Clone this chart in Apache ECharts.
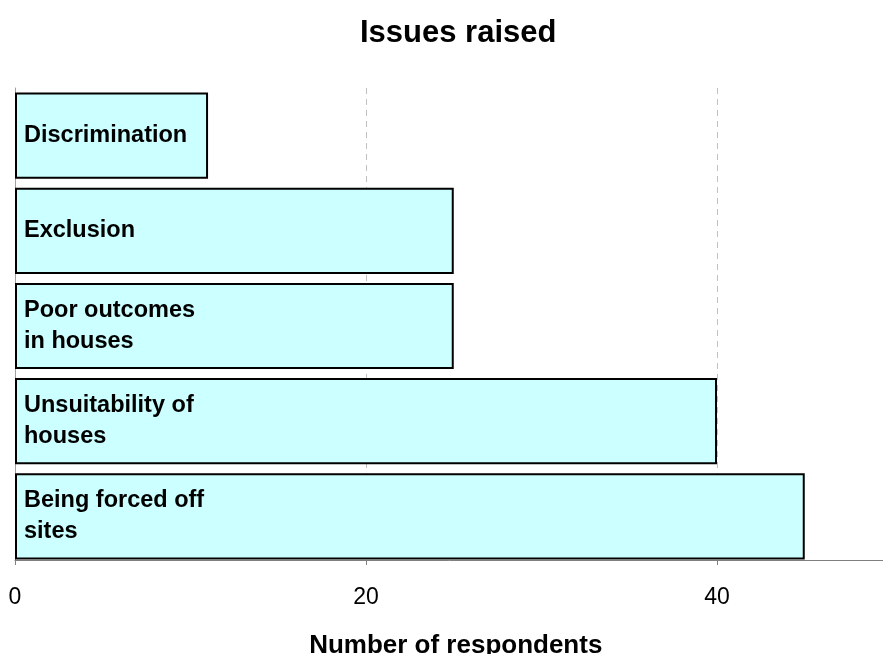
<!DOCTYPE html>
<html><head><meta charset="utf-8">
<script src="https://cdn.jsdelivr.net/npm/echarts@6/dist/echarts.min.js"></script>
<style>html,body{margin:0;padding:0;background:#fff}#c{width:883px;height:654px}</style>
</head><body><div id="c"></div>
<script>
var categories = ['Discrimination', 'Exclusion', 'Poor outcomes\nin houses', 'Unsuitability of\nhouses', 'Being forced off\nsites'];
var values = [11, 25, 25, 40, 45];
var xTicks = [0, 20, 40];
var FONT = '"Liberation Sans", Arial, sans-serif';
var chart = echarts.init(document.getElementById('c'), null, {renderer: 'canvas'});
chart.setOption({
  animation: false,
  backgroundColor: '#fff',
  title: {
    text: 'Issues raised', left: 355, top: 13,
    textStyle: {fontFamily: FONT, fontSize: 31, fontWeight: 'bold', color: '#000'}
  },
  grid: {left: 15, right: -9.5, top: 88, bottom: 90, containLabel: false, outerBoundsMode: 'none'},
  xAxis: {
    type: 'value', min: 0, max: 50, interval: 20, offset: -4,
    name: 'Number of respondents', nameLocation: 'middle', nameGap: 73,
    nameTextStyle: {fontFamily: FONT, fontSize: 26, fontWeight: 'bold', color: '#000', padding: [0, 0, 0, 4]},
    axisLine: {show: true, lineStyle: {color: '#808080', width: 1}},
    axisTick: {show: true, length: 5, lineStyle: {color: '#808080'}},
    axisLabel: {fontFamily: FONT, fontSize: 23, color: '#000', margin: 26,
      formatter: function (v) { return xTicks.indexOf(v) >= 0 ? String(v) : ''; }},
    splitLine: {show: true, lineStyle: {color: '#c0c0c0', type: [6, 5], width: 1}}
  },
  yAxis: {
    type: 'category', data: categories, inverse: true,
    axisLine: {show: true, lineStyle: {color: '#a0a0a0', width: 1}},
    axisTick: {show: false},
    axisLabel: {show: false},
    splitLine: {show: false}
  },
  series: [{
    type: 'bar', data: values, barCategoryGap: '9.5%',
    itemStyle: {color: '#ccffff', borderColor: '#000', borderWidth: 2},
    label: {
      show: true, position: 'insideLeft', distance: 9,
      formatter: function (p) { return p.name; },
      fontFamily: FONT, fontSize: 23.5, fontWeight: 'bold', color: '#000', lineHeight: 31
    }
  }]
});
</script></body></html>
